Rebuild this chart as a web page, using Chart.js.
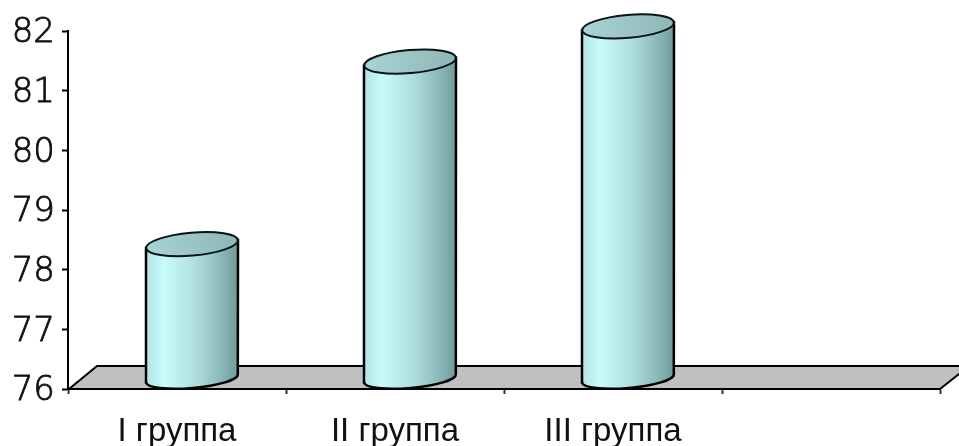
<!DOCTYPE html>
<html>
<head>
<meta charset="utf-8">
<style>
  html, body { margin: 0; padding: 0; background: #fff; overflow: hidden; }
  canvas { display: block; }
</style>
<script src="https://cdn.jsdelivr.net/npm/chart.js@4.4.0/dist/chart.umd.min.js"></script>
</head>
<body>
<canvas id="chart" width="959" height="446"></canvas>
<script>
const categories = ["I группа", "II группа", "III группа", ""];
const values = [78.26, 81.32, 81.91, null];
const axisMin = 76;
const axisMax = 82;

// 3D look: the cylinders and the floor sit behind the axis plane
const depthX = 15;
const depthY = -10;
const capRy = 11.5;
const baseRy = 9.5;
const tilt = -5 * Math.PI / 180;

const floorPlugin = {
    id: "floor",
    beforeDraw(chart) {
        const a = chart.chartArea;
        const c = chart.ctx;
        c.save();
        c.beginPath();
        c.moveTo(a.left + 1, a.bottom);
        c.lineTo(a.left + 29, a.bottom - 23);
        c.lineTo(a.right + 29, a.bottom - 23);
        c.lineTo(a.right, a.bottom);
        c.closePath();
        c.fillStyle = "#c0c0c0";
        c.fill();
        c.lineWidth = 2;
        c.strokeStyle = "#000";
        c.stroke();
        c.restore();
    }
};

const cylinderPlugin = {
    id: "cylinders",
    afterDatasetsDraw(chart) {
        const c = chart.ctx;
        chart.getDatasetMeta(0).data.forEach(function (bar, i) {
            if (values[i] === null) return;
            const cx = bar.x + depthX;
            const top = bar.y + depthY;
            const base = bar.base + depthY;
            const rx = bar.width / 2;
            const dy = Math.sin(tilt) * rx;
            const left = cx - rx;
            const right = cx + rx;

            const body = c.createLinearGradient(left, 0, right, 0);
            body.addColorStop(0, "#b4e4e4");
            body.addColorStop(0.2, "#c8fbfb");
            body.addColorStop(0.55, "#aedddd");
            body.addColorStop(0.85, "#86b3b3");
            body.addColorStop(1, "#6f9a9a");

            c.save();
            c.beginPath();
            c.moveTo(left, top - dy);
            c.lineTo(left, base - dy);
            c.ellipse(cx, base, rx, baseRy, tilt, Math.PI, 0, true);
            c.lineTo(right, top + dy);
            c.closePath();
            c.fillStyle = body;
            c.fill();
            c.lineWidth = 2.5;
            c.strokeStyle = "#000";
            c.stroke();

            const cap = c.createLinearGradient(left, 0, right, 0);
            cap.addColorStop(0, "#a8d4d4");
            cap.addColorStop(1, "#8fb6b6");
            c.beginPath();
            c.ellipse(cx, top, rx, capRy, tilt, 0, Math.PI * 2);
            c.fillStyle = cap;
            c.fill();
            c.lineWidth = 2;
            c.strokeStyle = "#0a1414";
            c.stroke();
            c.restore();
        });
    }
};

// value labels sit a little lower than Chart.js would centre them
const yLabelPlugin = {
    id: "yLabels",
    afterDraw(chart) {
        const s = chart.scales.y;
        const c = chart.ctx;
        c.save();
        c.font = "34px 'DejaVu Sans Light', 'DejaVu Sans'";
        c.fillStyle = "#111";
        c.strokeStyle = "#111";
        c.lineWidth = 0.8;
        c.textAlign = "right";
        c.textBaseline = "middle";
        s.ticks.forEach(function (t) {
            const y = s.getPixelForValue(t.value) + 2.5;
            c.fillText(t.label, 55, y);
            c.strokeText(t.label, 55, y);
        });
        c.restore();
    }
};

new Chart(document.getElementById("chart"), {
    type: "bar",
    data: {
        labels: categories,
        datasets: [{
            data: values,
            base: axisMin,
            backgroundColor: "transparent",
            borderWidth: 0,
            barPercentage: 0.422,
            categoryPercentage: 1
        }]
    },
    options: {
        responsive: false,
        animation: false,
        layout: { padding: { top: 31, right: 19, left: 0, bottom: 0 } },
        plugins: { legend: { display: false }, tooltip: { enabled: false } },
        scales: {
            x: {
                afterFit(scale) { scale.height = 57; },
                border: { color: "#000", width: 2 },
                grid: { drawOnChartArea: false, color: "#333", tickLength: 5, tickWidth: 2 },
                ticks: {
                    autoSkip: false,
                    maxRotation: 0,
                    padding: 18,
                    color: "#111",
                    font: { family: "'Liberation Sans'", size: 33 }
                }
            },
            y: {
                min: axisMin,
                max: axisMax,
                afterFit(scale) { scale.width = 68; },
                border: { color: "#000", width: 2 },
                grid: { drawOnChartArea: false, color: "#000", tickLength: 6, tickWidth: 2 },
                ticks: { stepSize: 1, display: false }
            }
        }
    },
    plugins: [floorPlugin, cylinderPlugin, yLabelPlugin]
});
</script>
</body>
</html>
